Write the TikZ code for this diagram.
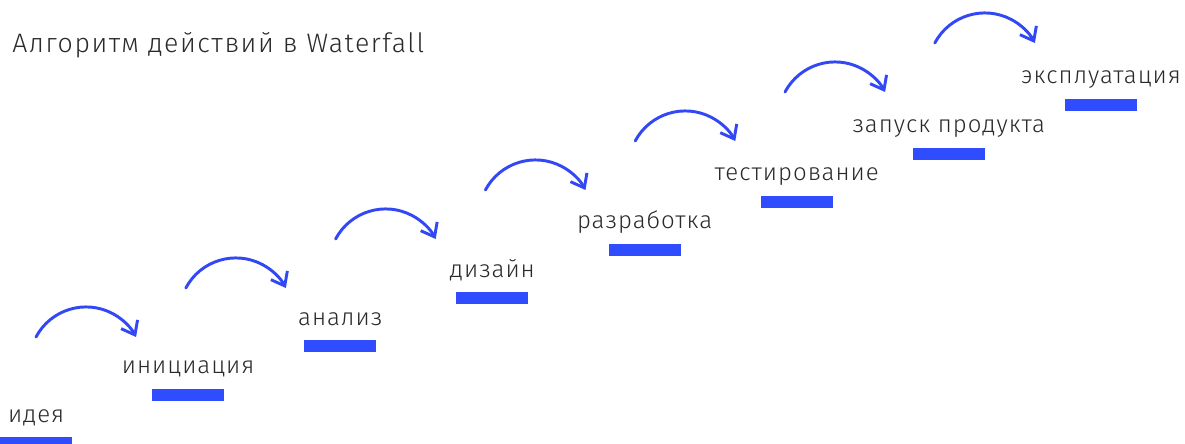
\documentclass[tikz,border=0pt]{standalone}
\usepackage{fontspec}
\setmainfont{Fira Sans}[UprightFont=* Light]
\newfontfamily\titlefont{Fira Sans}[UprightFont=* Light, LetterSpace=5.8]
\newfontfamily\labelfont{Fira Sans}[UprightFont=* Light, LetterSpace=4.1]
\usetikzlibrary{arrows.meta}
\definecolor{stepblue}{HTML}{2F4CFF}
\definecolor{arcblue}{HTML}{3348F5}
\definecolor{txt}{HTML}{2A2A2A}
\begin{document}
\begin{tikzpicture}[x=0.75pt,y=-0.75pt,
  bar/.style={fill=stepblue, draw=none, minimum width=54pt, minimum height=9pt, inner sep=0pt},
  lbl/.style={anchor=base, text=txt, font=\labelfont\fontsize{18}{21}\selectfont, inner sep=0pt},
  ttl/.style={anchor=base west, text=txt, font=\titlefont\fontsize{20}{24}\selectfont, inner sep=0pt},
  flow/.style={draw=arcblue, line width=2.2pt, line cap=round, -{Straight Barb[length=9pt,width=14pt,line width=2.2pt]}}]
\useasboundingbox (0,0) rectangle (1185,443);
\fill[white] (0,0) rectangle (1185,443);
\node[ttl] (title) at (12,52) {Алгоритм действий в Waterfall};
\foreach \i/\t in {0/идея,1/инициация,2/анализ,3/дизайн,4/разработка,5/тестирование,6/запуск продукта,7/эксплуатация} {
  \node[bar] (bar\i) at ({36+152.14*\i},{442.7-48.2*\i}) {};
  \node[lbl] (lbl\i) at ({36+152.14*\i},{422-48.3*\i}) {\t};
}
\foreach \j in {0,...,6} {
  \coordinate (s\j) at ({36+149.8*\j},{337-49*\j});
  \draw[flow] (s\j) arc[start angle=152,end angle=28,radius=42.5pt];
}
\end{tikzpicture}
\end{document}
